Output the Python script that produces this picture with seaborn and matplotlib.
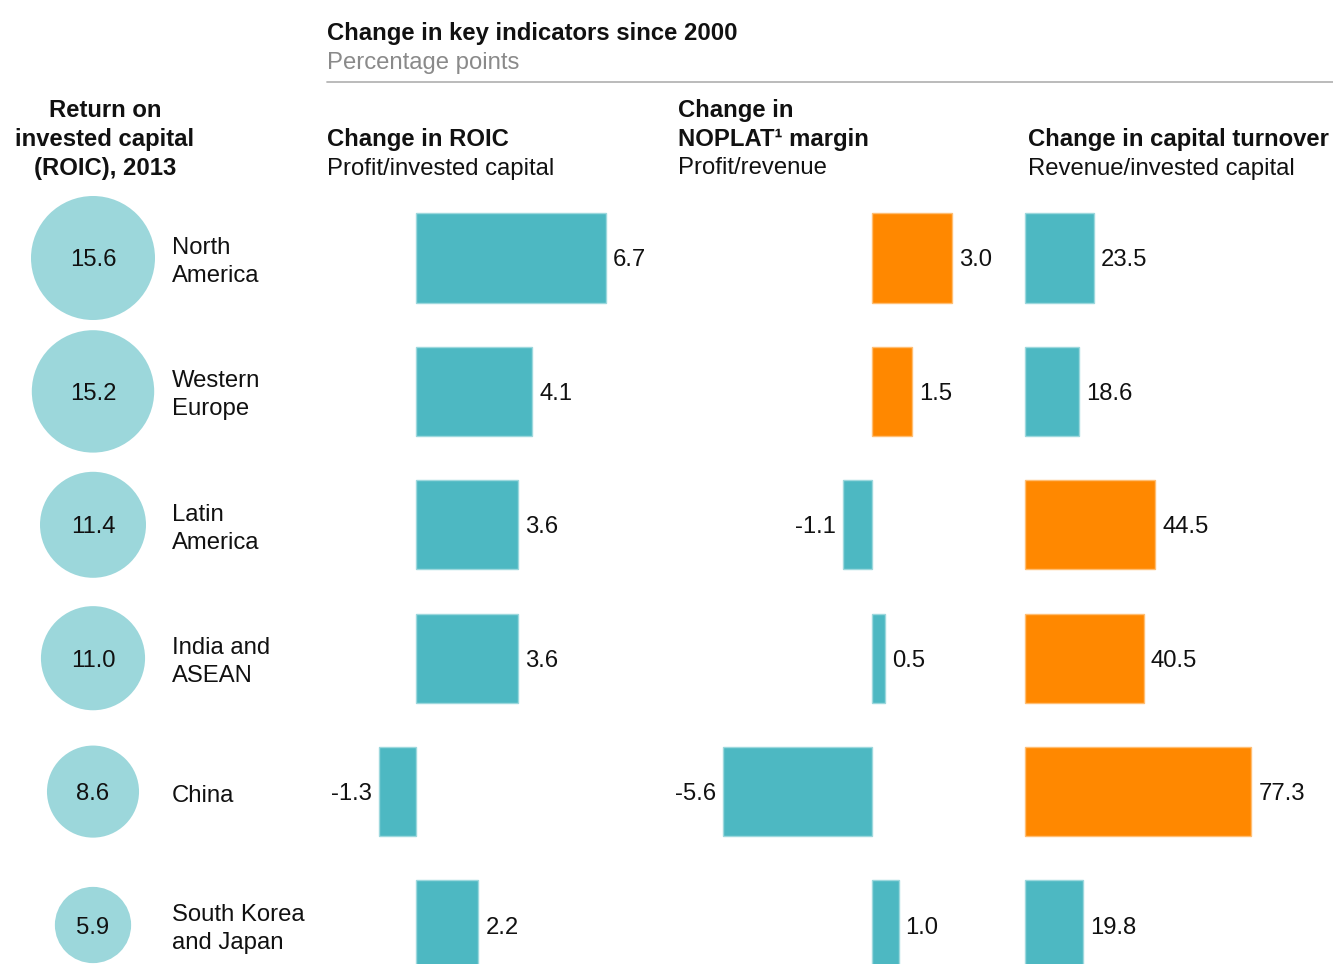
import numpy as np
import pandas as pd
import matplotlib
matplotlib.use("Agg")
import matplotlib.pyplot as plt
import seaborn as sns
from matplotlib.lines import Line2D
from matplotlib.colors import to_rgb

# ---------------- data ----------------
regions = ["North\nAmerica", "Western\nEurope", "Latin\nAmerica",
           "India and\nASEAN", "China", "South Korea\nand Japan"]
roic_2013 = [15.6, 15.2, 11.4, 11.0, 8.6, 5.9]
roic_change = [6.7, 4.1, 3.6, 3.6, -1.3, 2.2]
noplat_change = [3.0, 1.5, -1.1, 0.5, -5.6, 1.0]
turnover_change = [23.5, 18.6, 44.5, 40.5, 77.3, 19.8]
# dominant driver highlighted per region
roic_highlight = [False, False, False, False, False, False]
noplat_highlight = [True, True, False, False, False, False]
turnover_highlight = [False, False, True, True, True, False]

title = "Change in key indicators since 2000"
subtitle = "Percentage points"

# ---------------- style ----------------
TEAL = "#4db8c2"
ORANGE = "#ff8800"
CIRCLE = "#9cd7db"
TXT = "#111111"
FS = 17.2

sns.set_style("white")
plt.rcParams["font.family"] = ["Liberation Sans", "DejaVu Sans"]
plt.rcParams["font.size"] = FS

W, H = 1333, 964
fig = plt.figure(figsize=(W / 100, H / 100), dpi=100)

ROW0, STEP = 258.0, 133.4
Y_TOP, Y_BOT = 190, 964
YLIM = ((Y_BOT - ROW0) / STEP, (Y_TOP - ROW0) / STEP)


def add_ax(x0, x1):
    return fig.add_axes([x0 / W, 1 - Y_BOT / H, (x1 - x0) / W, (Y_BOT - Y_TOP) / H])


def lighter(c, f=0.45):
    r, g, b = to_rgb(c)
    return (r + (1 - r) * f, g + (1 - g) * f, b + (1 - b) * f)


def panel(values, highlight, x0, x1, zero_px, scale):
    ax = add_ax(x0, x1)
    colors = [ORANGE if h else TEAL for h in highlight]
    df = pd.DataFrame({"region": regions, "value": values})
    sns.barplot(data=df, x="value", y="region", hue="region",
                palette=dict(zip(regions, colors)), orient="h", width=0.67,
                saturation=1, legend=False, ax=ax)
    for p in ax.patches:
        p.set_edgecolor(lighter(p.get_facecolor()))
        p.set_linewidth(1.0)
    ax.set_xlim((x0 - zero_px) / scale, (x1 - zero_px) / scale)
    ax.set_ylim(*YLIM)
    ax.axis("off")
    for i, v in enumerate(values):
        off = 5 if v >= 0 else -5
        ax.annotate(f"{v:.1f}", xy=(v, i), xytext=(off, 0),
                    textcoords="offset points",
                    ha="left" if v >= 0 else "right", va="center_baseline",
                    fontsize=FS, color=TXT)
    return ax


# circles
axc = add_ax(0, 320)
dfc = pd.DataFrame({"region": regions, "roic": roic_2013, "x": [93] * len(regions)})
sns.scatterplot(data=dfc, x="x", y="region", size="roic",
                sizes=(511 * min(roic_2013), 511 * max(roic_2013)),
                size_norm=(min(roic_2013), max(roic_2013)),
                color=CIRCLE, linewidth=0, legend=False, ax=axc)
axc.set_xlim(0, 320)
axc.set_ylim(*YLIM)
axc.axis("off")
for i, (r, v) in enumerate(zip(regions, roic_2013)):
    axc.text(93, i, f"{v:.1f}", ha="center", va="center_baseline",
             fontsize=FS, color=TXT)
    axc.text(172, i + 0.03, r, ha="left", va="center", fontsize=FS,
             color=TXT, linespacing=1.36)

panel(roic_change, roic_highlight, 320, 660, 416, 28.4)
panel(noplat_change, noplat_highlight, 670, 1012, 872, 26.6)
panel(turnover_change, turnover_highlight, 1015, 1333, 1025, 2.93)


# headers
def ftext(x, y, s, **kw):
    kw.setdefault("fontsize", FS)
    kw.setdefault("color", TXT)
    fig.text(x / W, 1 - y / H, s, va="center_baseline", **kw)


ftext(327, 31, title, fontweight="bold")
ftext(327, 60, subtitle, color="#8a8a8a")
fig.add_artist(Line2D([327 / W, 1.0], [1 - 82 / H] * 2, color="#b5b5b5", lw=1.3))

for y, s in zip([108, 137, 166], ["Return on", "invested capital", "(ROIC), 2013"]):
    ftext(105, y, s, fontweight="bold", ha="center")

ftext(327, 137, "Change in ROIC", fontweight="bold")
ftext(327, 166, "Profit/invested capital")
ftext(678, 108, "Change in", fontweight="bold")
ftext(678, 137, "NOPLAT\u00b9 margin", fontweight="bold")
ftext(678, 166, "Profit/revenue")
ftext(1028, 137, "Change in capital turnover", fontweight="bold")
ftext(1028, 166, "Revenue/invested capital")

fig.savefig("out.png", dpi=100)
